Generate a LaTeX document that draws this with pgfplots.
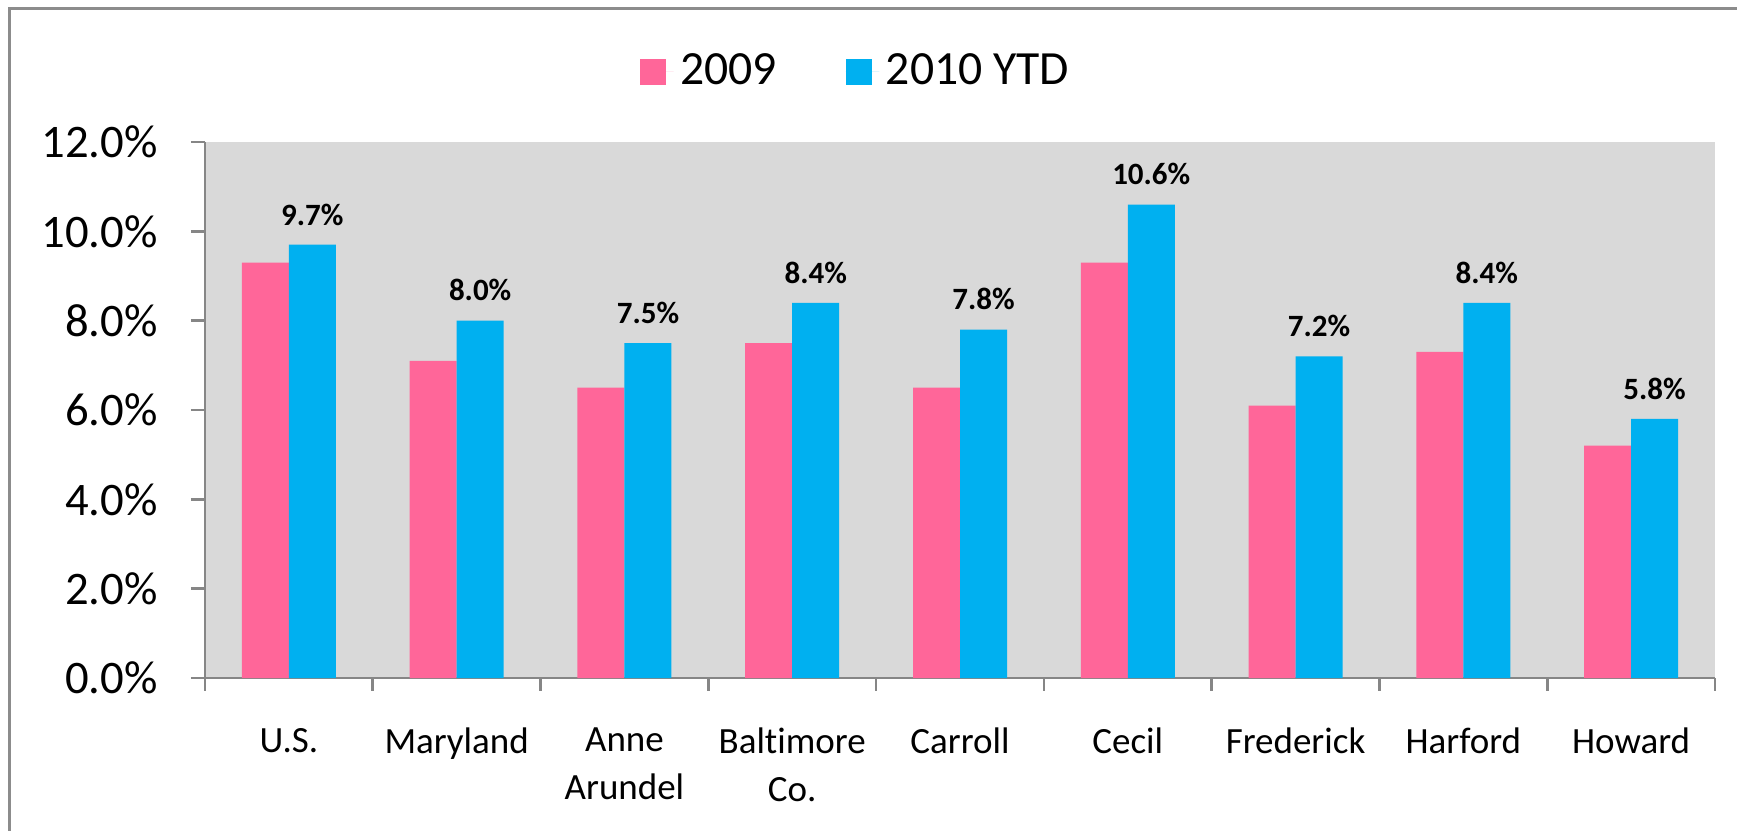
\documentclass[border=0pt]{standalone}
\usepackage{fontspec}
\setmainfont{Carlito}[Ligatures={NoCommon,NoContextual}]
\usepackage{pgfplots}
\pgfplotsset{compat=1.18}
\definecolor{pinkc}{HTML}{FF6699}
\definecolor{bluec}{HTML}{00B0F0}
\definecolor{bgc}{HTML}{D9D9D9}
\definecolor{axc}{HTML}{868686}
\definecolor{framec}{HTML}{8C8C8C}
\pgfplotsset{sqlegend/.style={legend image code/.code={\fill[##1,draw=none] (0pt,-3.9pt) rectangle (7.8pt,3.9pt);\path (0pt,0pt) -- (10.1pt,0pt);}}}
\begin{document}
\begin{tikzpicture}
\path[use as bounding box] (-61.5pt,-45.6pt) rectangle (459.6pt,203.4pt);
\draw[framec,line width=0.9pt] (-58.5pt,-46pt) -- (-58.5pt,200.7pt) -- (460pt,200.7pt);
\begin{axis}[
  at={(0pt,0pt)}, anchor=south west,
  scale only axis, width=453pt, height=160.8pt,
  /pgf/number format/assume math mode=true,
  ybar=0pt, bar width=14.1pt,
  xmin=-0.5, xmax=8.5, ymin=0, ymax=12,
  axis x line*=bottom, axis y line*=left,
  axis line style={axc, line width=0.8pt, -},
  axis background/.style={fill=bgc},
  tick align=outside,
  major tick length=4.2pt, minor tick length=3.8pt,
  xtick={0,...,8},
  xticklabels={U.S.,Maryland,Anne\\Arundel,Baltimore\\Co.,Carroll,Cecil,Frederick,Harford,Howard},
  x tick label style={align=center, font=\fontsize{11.1}{14.2}\selectfont, yshift=-7.3pt},
  minor xtick={-0.5,0.5,...,8.5},
  major x tick style={draw=none},
  minor x tick style={axc, line width=0.8pt},
  ytick={0,2,...,12},
  major y tick style={axc, line width=0.8pt},
  yticklabel={\pgfmathprintnumber[fixed,fixed zerofill,precision=1]{\tick}\%},
  y tick label style={font=\fontsize{14}{16}\selectfont, xshift=-6.5pt},
  legend columns=2,
  legend style={at={(axis description cs:0.4324,1.1306)}, anchor=center, draw=none, fill=none,
    font=\fontsize{14.3}{16}\selectfont,
    /tikz/every even column/.append style={column sep=18.6pt}},
]
\addplot[fill=pinkc, draw=none, sqlegend] coordinates {(0,9.3) (1,7.1) (2,6.5) (3,7.5) (4,6.5) (5,9.3) (6,6.1) (7,7.3) (8,5.2)};
\addplot[fill=bluec, draw=none, sqlegend,
  nodes near coords={\pgfmathprintnumber[fixed,fixed zerofill,precision=1]{\pgfplotspointmeta}\%},
  nodes near coords style={font=\bfseries\fontsize{9.3}{11}\selectfont, yshift=2.3pt, text=black}] coordinates {(0,9.7) (1,8.0) (2,7.5) (3,8.4) (4,7.8) (5,10.6) (6,7.2) (7,8.4) (8,5.8)};
\legend{2009, 2010 YTD}
\end{axis}
\end{tikzpicture}
\end{document}
